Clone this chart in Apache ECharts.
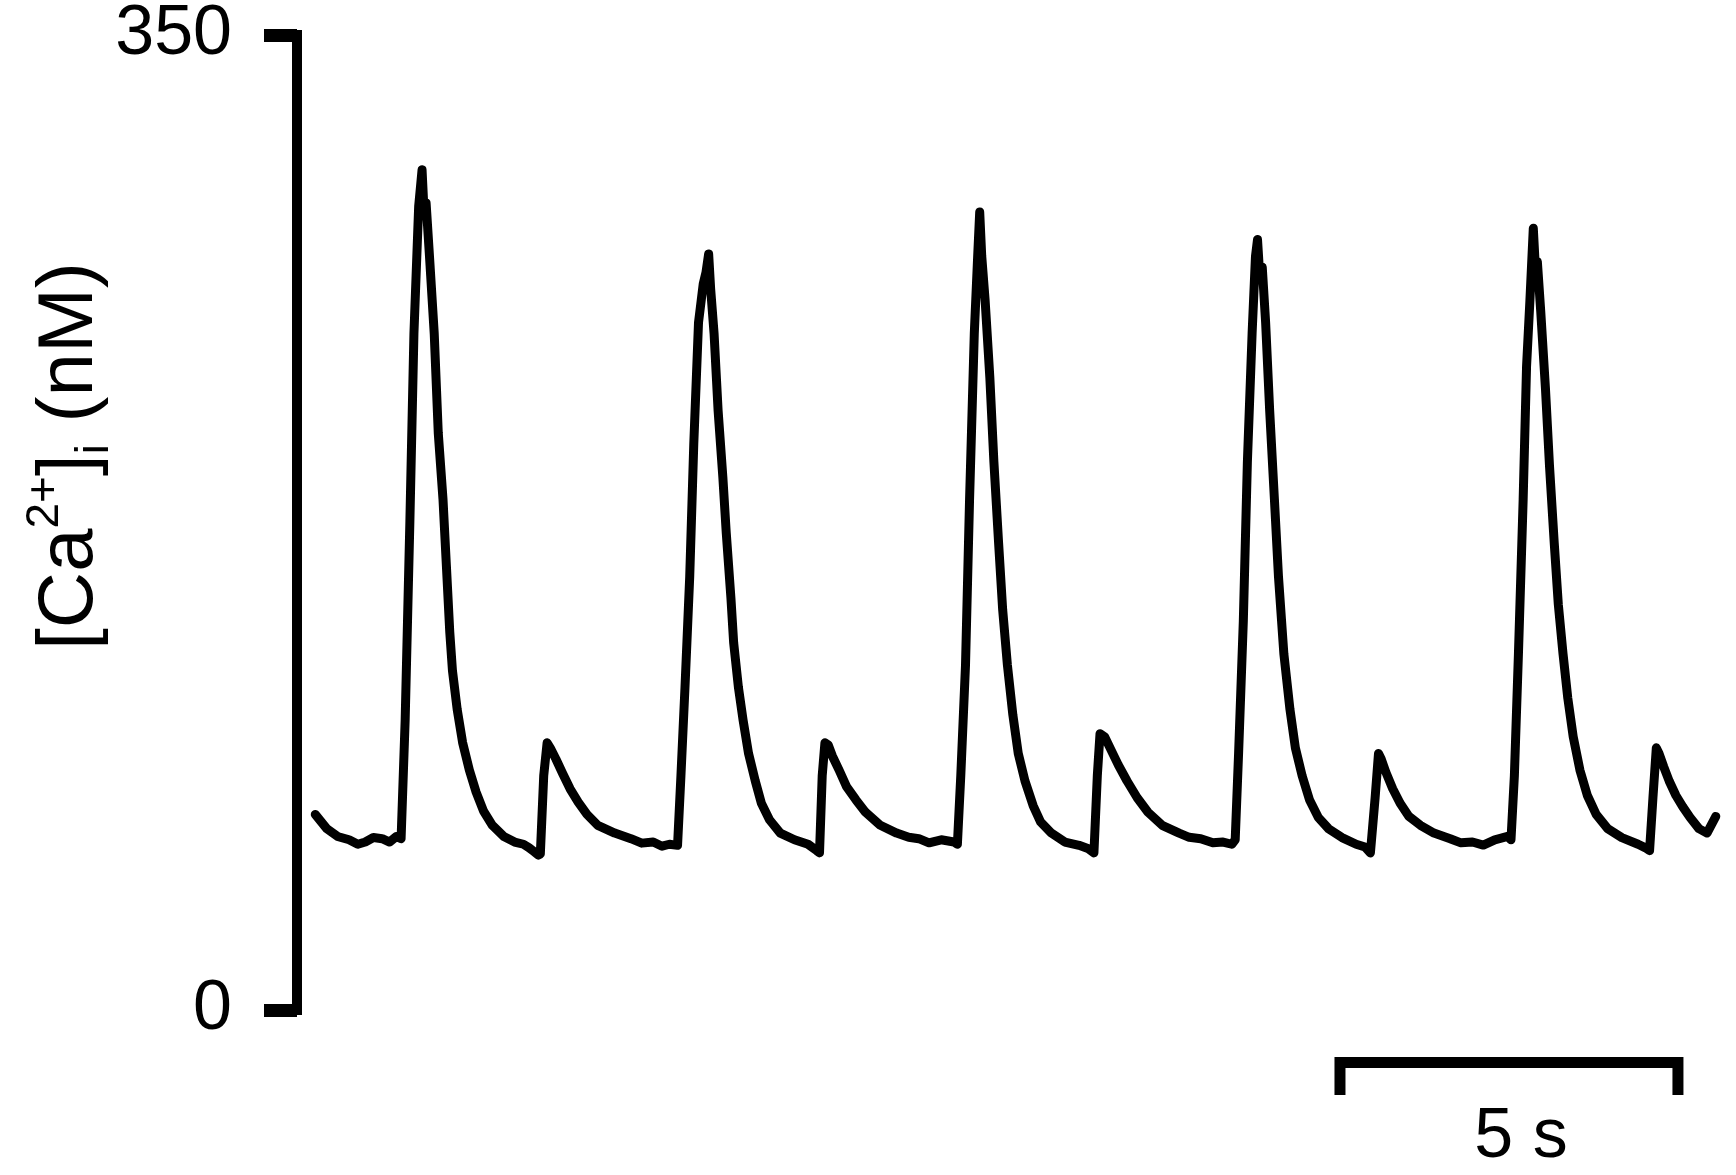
<!DOCTYPE html>
<html>
<head>
<meta charset="utf-8">
<script src="https://cdn.jsdelivr.net/npm/echarts@6/dist/echarts.min.js"></script>
<style>
html,body{margin:0;padding:0;background:#fff;}
#chart{width:1736px;height:1175px;}
</style>
</head>
<body>
<div id="chart"></div>
<script>
// time (s)
const traceTime = [
  0.27,0.44,0.60,0.77,0.90,1.01,1.13,1.26,1.37,1.47,1.54,1.60,1.67,1.73,1.80,1.85,1.88,1.91,1.96,2.03,2.09,2.16,2.21,2.26,2.30,2.37,2.45,2.55,2.65,2.76,2.89,3.06,3.22,3.35,3.43,3.51,3.57,
  3.60,3.65,3.70,3.75,3.83,3.93,4.04,4.16,4.29,4.45,4.70,4.94,5.10,5.27,5.40,5.51,5.63,
  5.68,5.74,5.81,5.87,5.94,6.01,6.05,6.09,6.12,6.17,6.23,6.30,6.35,6.42,6.46,6.53,6.60,6.68,6.78,6.87,6.99,7.15,7.36,7.56,7.69,
  7.73,7.77,7.81,7.86,7.92,8.02,8.13,8.27,8.41,8.63,8.87,9.05,9.20,9.35,9.53,9.72,
  9.77,9.82,9.89,9.95,10.02,10.07,10.10,10.13,10.18,10.25,10.31,10.38,10.44,10.51,10.59,10.67,10.77,10.89,11.00,11.16,11.36,11.57,11.70,11.79,
  11.84,11.88,11.95,12.03,12.15,12.28,12.43,12.59,12.80,13.05,13.20,13.37,13.55,13.70,13.83,
  13.88,13.93,14.00,14.06,14.13,14.18,14.21,14.24,14.28,14.33,14.39,14.46,14.52,14.60,14.69,14.77,14.87,14.98,15.11,15.26,15.46,15.67,15.80,15.88,
  15.95,16.00,16.04,16.11,16.21,16.32,16.45,16.62,16.82,17.06,17.22,17.39,17.55,17.72,17.91,
  17.96,18.01,18.07,18.14,18.19,18.24,18.29,18.32,18.35,18.40,18.47,18.53,18.60,18.66,18.73,18.80,18.88,18.98,19.09,19.22,19.39,19.60,19.84,19.95,20.01,
  20.06,20.11,20.15,20.22,20.30,20.40,20.50,20.61,20.74,20.86,20.99
];
// [Ca2+]i (nM)
const traceConc = [
  70.2,65.1,62.3,61.1,59.5,60.3,61.9,61.5,60.3,62.3,61.5,104.0,175.4,242.9,288.5,301.6,286.5,289.7,270.6,242.9,207.1,183.3,159.5,135.7,121.8,107.9,96.0,86.1,78.2,71.4,66.3,62.3,60.3,59.5,58.3,56.8,55.6,
  56.0,84.1,95.9,93.9,90.1,84.9,79.4,74.6,70.2,66.3,63.5,61.5,59.9,60.3,58.8,59.5,59.1,
  84.1,115.9,155.6,203.2,246.8,260.7,264.7,271.4,258.7,242.9,215.1,191.3,171.4,147.7,131.8,115.9,104.0,92.1,82.2,74.2,68.3,63.5,61.1,59.5,57.2,
  56.4,84.1,95.9,95.1,91.2,86.1,80.2,75.4,71.0,66.3,63.5,62.0,61.5,60.0,61.1,60.3,
  59.5,84.1,123.8,183.3,242.9,270.6,286.5,270.6,254.8,227.0,196.7,167.5,143.6,123.8,106.0,92.1,82.2,73.4,67.5,63.5,60.3,59.1,58.0,56.4,
  84.1,99.2,98.0,94.0,88.0,82.2,76.2,71.0,66.3,63.5,62.0,61.5,60.0,60.3,59.5,
  61.1,92.1,139.6,196.7,242.9,270.6,276.6,264.7,266.7,246.8,215.1,183.3,155.6,127.8,107.9,94.1,84.1,75.4,69.1,65.1,61.9,59.5,58.5,56.4,
  76.2,92.1,90.1,85.3,79.4,74.2,69.5,66.3,63.5,61.5,60.0,60.3,59.2,61.1,62.3,
  61.1,84.1,127.8,183.3,230.9,254.8,280.6,266.7,268.7,250.8,223.0,195.2,167.5,145.6,127.8,112.0,98.1,86.1,77.0,70.2,65.1,61.9,59.5,58.2,57.2,
  76.2,94.1,92.1,87.3,82.2,77.0,73.0,69.1,65.1,63.5,69.5
];
const yTicks = [0, 350];
const scaleBarStart = 15.43;   // s
const scaleBarLength = 5;      // s
const scaleBarLabel = '5 s';

const traceData = traceTime.map((t, i) => [t, traceConc[i]]);

const chart = echarts.init(document.getElementById('chart'), null, {renderer: 'canvas'});
const FONT = 'Liberation Sans, Arial, Helvetica, sans-serif';

chart.setOption({
  animation: false,
  backgroundColor: '#fff',
  grid: {left: 297, right: 6, top: 33, bottom: 165, containLabel: false},
  xAxis: {type: 'value', min: 0, max: 21.2, show: false},
  yAxis: {
    type: 'value', min: yTicks[0], max: yTicks[1], interval: yTicks[1] - yTicks[0],
    axisLine: {show: true, lineStyle: {color: '#000', width: 10, cap: 'square'}},
    axisTick: {show: true, inside: false, length: 33, lineStyle: {color: '#000', width: 13}},
    axisLabel: {fontSize: 70, fontFamily: FONT, color: '#000', margin: 65},
    splitLine: {show: false}
  },
  series: [{
    type: 'line', data: traceData, showSymbol: false, silent: true,
    lineStyle: {color: '#000', width: 9, join: 'round', cap: 'round'}
  }]
});

const x0 = chart.convertToPixel({xAxisIndex: 0}, scaleBarStart);
const x1 = chart.convertToPixel({xAxisIndex: 0}, scaleBarStart + scaleBarLength);

chart.setOption({
  graphic: [
    {
      type: 'polyline',
      shape: {points: [[x0, 1095], [x0, 1062.5], [x1, 1062.5], [x1, 1095]]},
      style: {stroke: '#000', lineWidth: 11, fill: null, lineJoin: 'miter', lineCap: 'butt'}
    },
    {
      type: 'text',
      x: (x0 + x1) / 2 + 12, y: 1138,
      style: {text: scaleBarLabel, font: '70px ' + FONT, fill: '#000', align: 'center', verticalAlign: 'middle'}
    },
    {
      type: 'text',
      x: 70, y: 456, rotation: Math.PI / 2,
      style: {
        text: '{m|[Ca}{sup|2+}{m|]}{sub|i}{m| (nM)}',
        align: 'center', verticalAlign: 'middle',
        rich: {
          m: {fontSize: 78, fontFamily: FONT, fill: '#000', color: '#000', lineHeight: 96},
          sup: {fontSize: 46, fontFamily: FONT, fill: '#000', color: '#000', lineHeight: 50, verticalAlign: 'top'},
          sub: {fontSize: 46, fontFamily: FONT, fill: '#000', color: '#000', lineHeight: 50, verticalAlign: 'bottom'}
        }
      }
    }
  ]
});
</script>
</body>
</html>
